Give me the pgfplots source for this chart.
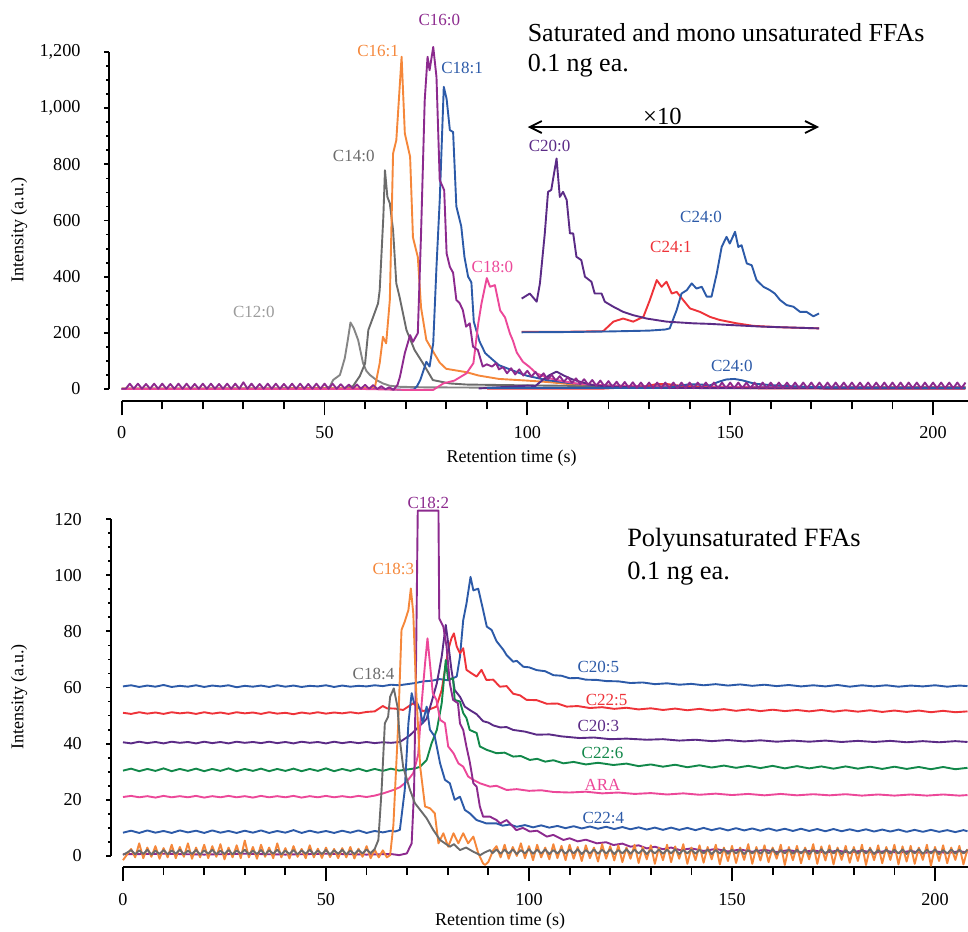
\documentclass[border=0pt]{standalone}
\usepackage{fontspec}
\setmainfont{Liberation Serif}
\usepackage{pgfplots}
\pgfplotsset{compat=1.18}
\usetikzlibrary{arrows.meta}
\definecolor{cgrey}{HTML}{6B6B6B}
\definecolor{cgreyl}{HTML}{858585}
\definecolor{cgreylab}{HTML}{9C9C9C}
\definecolor{corange}{HTML}{F5873A}
\definecolor{cpurple}{HTML}{8C2A8E}
\definecolor{cblue}{HTML}{2C5AA8}
\definecolor{cpink}{HTML}{EC4899}
\definecolor{cdpurple}{HTML}{5B2B86}
\definecolor{cred}{HTML}{EE3339}
\definecolor{cgreen}{HTML}{12884A}
\tikzset{lab/.style={font=\fontsize{8.5}{9}\selectfont}}
\pgfplotsset{
 topbox/.style={at={(54.55pt,264.8pt)}, anchor=south west, scale only axis, width=429.4pt, height=180.3pt, xmin=-3.1, xmax=208.6, ymin=-44, ymax=1240},
 botbox/.style={at={(55.5pt,31.9pt)}, anchor=south west, scale only axis, width=428.45pt, height=180.8pt, xmin=-2.95, xmax=208.1, ymin=-4, ymax=124.8},
 common/.style={axis lines=left, axis line style={draw=none}, tick align=outside, clip=false,
   tick style={black, line width=0.9pt},
   ticklabel style={font=\fontsize{9.1}{10}\selectfont, inner sep=0pt},
   /pgf/number format/assume math mode=true, /pgf/number format/1000 sep={,},
   every axis plot/.append style={line width=0.95pt, line join=round, mark=none}},
}
\begin{document}
\begin{tikzpicture}
\path[use as bounding box] (0pt,0pt) rectangle (484pt,465.5pt);
% ===== TOP: x axis =====
\begin{axis}[topbox, common, hide y axis, ytick=\empty,
  xtick={0,50,100,150,200}, minor x tick num=4, major tick length=7pt, minor tick length=4pt,
  xticklabel style={anchor=center, yshift=-8.4pt}]
\draw[line width=0.9pt] (axis cs:0,-44) -- (axis cs:208.6,-44);
\node[anchor=base, font=\fontsize{9}{10}\selectfont] at (axis cs:96.1,-261) {Retention time (s)};
\end{axis}
% ===== TOP: data =====
\begin{axis}[topbox, common, xtick=\empty,
  ytick={0,200,...,1200}, minor y tick num=3, major tick length=2.5pt, minor tick length=1.5pt,
  yticklabel style={anchor=east, xshift=-11.6pt}]
\draw[line width=0.9pt] (axis cs:-3.1,0) -- (axis cs:-3.1,1200);
\node[rotate=90, font=\fontsize{9}{10}\selectfont] at (axis cs:-25.3,567) {Intensity (a.u.)};
% C12:0
\addplot[cgreyl] coordinates {(0,2)(20,2)(40,3)(50,3)(51.3,8)(52.1,32)(53.8,50)(55,110)(55.8,180)(56.4,237)(57.2,217)(58.3,174)(59.5,92)(60.3,65)(61.2,50)(62.8,32)(64.4,20)(66,12)(68.5,8)(75,6)(90,5)(120,4)(208,4)};
% C14:0
\addplot[cgrey] coordinates {(0,1)(40,1)(55,3)(57,10)(58.7,46)(60,91)(60.8,210)(62,257)(63.2,305)(63.6,352)(64.5,613)(64.9,779)(65.5,684)(66.1,661)(66.9,566)(67.7,376)(68.5,328)(70.2,210)(72.2,139)(74.3,91)(76.7,32)(80.8,20)(85,16)(100,13)(120,10)(150,8)(208,7)};
% C16:1
\addplot[corange] coordinates {(0,2)(40,2)(60,3)(62.4,5)(63.6,92)(64.4,186)(65.2,163)(66.1,317)(66.9,839)(67.7,886)(69,1183)(69.8,910)(71.1,827)(71.8,540)(73,470)(73.8,290)(75.1,175)(76.3,145)(78.4,94)(80,72)(85,60)(88,48)(93,36)(100,30)(105,25)(110,18)(120,12)(140,8)(170,6)(208,6)};
% C18:1
\addplot[cblue] coordinates {(0,0)(40,0)(65,0)(69.8,-3)(72,-2)(72.8,10)(73.6,32)(75.1,97)(75.9,80)(76.8,163)(77.6,435)(78.4,672)(79.4,1076)(80.1,1033)(80.9,922)(81.7,915)(82.5,650)(83.7,580)(84.5,470)(85.4,400)(86.2,380)(86.8,240)(88.2,170)(89.6,128)(91,110)(93,85)(96.4,66)(99.7,48)(104.7,32)(110,22)(115,15)(125,10)(140,8)(170,6)(208,5)};
% C18:0
\addplot[cpink] coordinates {(0,0)(60,0)(70,-3)(76.8,-3)(79.3,20)(82,30)(85,56)(86.7,92)(87.9,234)(88.7,305)(90,395)(90.8,364)(92,370)(93.3,280)(94.5,255)(95.7,198)(96.4,174)(97.4,130)(98.9,97)(100.5,79)(102.2,56)(105,40)(108,30)(112,20)(120,12)(140,7)(208,5)};
% C24:1 actual
\addplot[cred] coordinates {(90,1)(118,1)(122,4)(128,5)(131.9,18)(134.3,18)(138,11)(145,5)(160,2)(208,1)};
% C20:0 actual
\addplot[cdpurple] coordinates {(88,2)(100,12)(102,11)(104,35)(105.5,50)(107.2,62)(109,48)(111,35)(113,26)(116,14)(120,9)(126,6)(135,4)(150,3)(208,2)};
% C24:0 actual
\addplot[cblue] coordinates {(90,4)(130,4)(135,5)(137,11)(140,17)(143,16)(145,13)(147,25)(149,34)(151,36)(153,31)(156,19)(160,14)(165,10)(170,7)(180,5)(208,4)};
% C16:0
\addplot[cpurple] coordinates {(0,1)(1,1)(2,19)(3,1)(4,19)(5,1)(6,18)(7,1)(8,19)(9,1)(10,19)(11,1)(12,18)(13,1)(14,19)(15,1)(16,19)(17,1)(18,18)(19,1)(20,19)(21,1)(22,19)(23,1)(24,18)(25,1)(26,19)(27,1)(28,19)(29,1)(30,24)(31,1)(32,19)(33,1)(34,18)(35,1)(36,19)(37,1)(38,19)(39,1)(40,18)(41,1)(42,19)(43,1)(44,19)(45,1)(46,18)(47,1)(48,19)(49,1)(50,19)(51,1)(52,19)(53,1)(54,17)(55,2)(56,16)(57,2)(58,16)(59,1)(60,15)(61,1)(62,14)(63,0)(64,10)(65,-1)(66,6)(67,-3)(68,15)(68.6,44)(69.8,128)(71.1,192)(71.8,168)(73,199)(73.8,555)(74.7,1028)(75.4,1183)(75.9,1135)(76.8,1218)(77.6,1111)(78.4,744)(79.5,708)(80.1,483)(80.9,435)(81.7,414)(82.5,317)(83.3,306)(84.1,281)(84.9,222)(85.8,234)(86.6,151)(87.8,139)(89,80)(90,88)(91.3,80)(92.3,92)(93,70)(94,78)(95,56)(96,74)(97,52)(98,70)(99,48)(100,65)(101,44)(102,61)(103,40)(104,56)(105,34)(106,51)(107,30)(108,46)(109,26)(110,42)(111,22)(112,38)(113,18)(114,35)(115,15)(116,32)(117,12)(118,30)(119,10)(120,28)(121,8)(122,26)(123,6)(124,25)(125,5)(126,24)(127,4)(128,23)(129,3)(130,23)(131,3)(132,23)(133,3)(134,23)(135,3)(136,23)(137,3)(138,23)(139,3)(140,23)(141,3)(142,23)(143,3)(144,23)(145,3)(146,23)(147,3)(148,23)(149,3)(150,23)(151,3)(152,23)(153,3)(154,23)(155,3)(156,23)(157,3)(158,23)(159,3)(160,23)(161,3)(162,23)(163,3)(164,23)(165,3)(166,23)(167,3)(168,23)(169,3)(170,23)(171,3)(172,23)(173,3)(174,23)(175,3)(176,23)(177,3)(178,23)(179,3)(180,23)(181,3)(182,23)(183,3)(184,23)(185,3)(186,23)(187,3)(188,23)(189,3)(190,23)(191,3)(192,23)(193,3)(194,23)(195,3)(196,23)(197,3)(198,23)(199,3)(200,23)(201,3)(202,23)(203,3)(204,23)(205,3)(206,23)(207,3)(208,23)};
% x10 traces
\addplot[cred] coordinates {(98.6,204)(110,204)(118.7,206)(121.2,240)(123.6,251)(126.1,240)(128.6,257)(130.2,317)(131.9,388)(133.1,364)(134.3,382)(135.6,340)(136.8,346)(138.4,317)(140.1,287)(142.5,275)(145,257)(147.4,246)(151.6,234)(155.7,225)(162.3,220)(171.9,216)};
\addplot[cblue] coordinates {(98.6,202)(110,203)(120,205)(130,208)(134,212)(135.1,216)(136.8,281)(138,340)(139.3,352)(140.5,376)(141.7,358)(143,364)(144.2,329)(145.4,329)(146.7,412)(147.9,506)(149.1,542)(149.9,518)(151.2,560)(152,506)(152.8,512)(154.1,447)(155.3,441)(156.5,388)(158.2,364)(159.8,352)(161,340)(162.3,317)(163.9,299)(165.6,293)(167.2,275)(168.8,275)(170.5,259)(171.9,269)};
\addplot[cdpurple] coordinates {(98.6,322)(100.6,340)(102.3,311)(103.1,376)(104.3,554)(105.1,702)(105.9,709)(107.2,821)(108,684)(108.8,702)(109.7,673)(110.5,554)(111.3,554)(112.1,471)(113.3,459)(114.2,400)(115.8,382)(116.6,340)(118.3,340)(119.1,311)(121.2,293)(123.6,275)(126.1,263)(129.4,251)(134.3,240)(140.9,234)(145,232)(149.9,228)(158.2,222)(165,219)(171.9,216)};
% arrow and annotations
\draw[{Straight Barb[length=6pt,width=6pt]}-{Straight Barb[length=6pt,width=6pt]}, line width=0.9pt] (axis cs:100.1,933) -- (axis cs:171.9,933);
\node[anchor=base, font=\fontsize{12.3}{14}\selectfont] at (axis cs:133.3,943) {×10};
\node[anchor=base west, font=\fontsize{13}{15}\selectfont, inner sep=0pt] at (axis cs:100,1239) {Saturated and mono unsaturated FFAs};
\node[anchor=base west, font=\fontsize{13}{15}\selectfont, inner sep=0pt] at (axis cs:100,1129) {0.1 ng ea.};
\node[lab, text=cgreylab] at (axis cs:32.6,275) {C12:0};
\node[lab, text=cgrey] at (axis cs:57.2,830) {C14:0};
\node[lab, text=corange] at (axis cs:63.2,1204) {C16:1};
\node[lab, text=cpurple] at (axis cs:78.3,1315) {C16:0};
\node[lab, text=cblue] at (axis cs:83.9,1144) {C18:1};
\node[lab, text=cpink] at (axis cs:91.4,433) {C18:0};
\node[lab, text=cdpurple] at (axis cs:105.5,866) {C20:0};
\node[lab, text=cblue] at (axis cs:142.8,611) {C24:0};
\node[lab, text=cred] at (axis cs:135.4,506) {C24:1};
\node[lab, text=cblue] at (axis cs:150.4,82) {C24:0};
\end{axis}
% ===== BOTTOM: x axis =====
\begin{axis}[botbox, common, hide y axis, ytick=\empty,
  xtick={0,50,100,150,200}, minor x tick num=4, major tick length=7pt, minor tick length=4pt,
  xticklabel style={anchor=center, yshift=-9.4pt}]
\draw[line width=0.9pt] (axis cs:0,-4) -- (axis cs:208.1,-4);
\node[anchor=base, font=\fontsize{9}{10}\selectfont] at (axis cs:92.9,-24.6) {Retention time (s)};
\end{axis}
% ===== BOTTOM: data =====
\begin{axis}[botbox, common, xtick=\empty,
  ytick={0,20,...,120}, minor y tick num=3, major tick length=2.5pt, minor tick length=1.5pt,
  yticklabel style={anchor=east, xshift=-11.9pt}]
\draw[line width=0.9pt] (axis cs:-2.95,0) -- (axis cs:-2.95,120);
\node[rotate=90, font=\fontsize{9}{10}\selectfont] at (axis cs:-25.6,56.7) {Intensity (a.u.)};
% C20:5
\addplot[cblue] coordinates {(0,60.4)(2,60.8)(4,60.2)(6,60.7)(8,60.3)(10,60.9)(12,60.2)(14,60.6)(16,60.3)(18,60.8)(20,60.2)(22,60.7)(24,60.4)(26,60.8)(28,60.1)(30,60.6)(32,60.3)(34,60.7)(36,60.2)(38,60.8)(40,60.3)(42,60.7)(44,60.2)(46,60.6)(48,60.4)(50,60.8)(52,60.2)(54,60.7)(56,60.3)(58,60.6)(60,60.4)(62,60.8)(64,60.5)(66,61)(68,60.8)(70,61.2)(72,61.6)(74,62.2)(76,62.4)(78,63)(80,62.6)(82.2,63.9)(83,71)(83.8,84)(84.6,89.9)(85.6,99.4)(86.3,94.6)(87.5,95.2)(88.7,87.6)(89.6,81.7)(90.8,80.5)(92,76.5)(93.7,73.4)(94.5,71.5)(96.1,69.2)(97,69.5)(98.6,67.4)(100,67.2)(101.9,66.2)(104,65.8)(106,64.4)(108,64.2)(110,63.3)(112,63.4)(114,62.8)(116.7,62.7)(119,62.3)(122,62.2)(125,61.6)(128,61.8)(131,61.2)(134,61.5)(137,61)(140,61.3)(143,60.8)(146,61.2)(149,60.7)(152,61.1)(155,60.6)(158,61)(161,60.5)(164,60.9)(167,60.4)(170,60.8)(173,60.4)(176,60.9)(179,60.3)(182,60.8)(185,60.4)(188,60.8)(191,60.3)(194,60.7)(197,60.4)(200,60.8)(203,60.3)(206,60.7)(208,60.5)};
% C22:5
\addplot[cred] coordinates {(0,51)(2,50.6)(4,51.2)(6,50.7)(8,51.1)(10,50.6)(12,51.2)(14,50.8)(16,51.1)(18,50.6)(20,51.2)(22,50.7)(24,51.1)(26,50.6)(28,51.2)(30,50.8)(32,51.1)(34,50.6)(36,51.2)(38,50.7)(40,51)(42,50.5)(44,51.1)(46,50.7)(48,51.2)(50,50.7)(52,51.1)(54,50.8)(56,51.2)(58,50.8)(60,51.3)(62,51.5)(64,53.4)(65,52.6)(67,52.5)(69,52)(71.5,54.4)(72.5,53)(73.9,51.6)(76,52.5)(77.2,53.2)(78.5,59.1)(79.3,66.3)(80.1,73.4)(80.9,77.5)(81.5,79.3)(82.2,74.6)(83,72.2)(83.8,74)(84.6,66.3)(85.8,65.1)(87.1,63.9)(88.3,66.3)(89.5,62.7)(91.2,62.8)(92.8,60.3)(94.5,60.5)(96.1,57.8)(97.8,57.2)(99.4,55.6)(101.9,55.5)(104.4,54.2)(107,54.3)(109.3,53.2)(112,53.4)(115,52.7)(118,53)(121,52.4)(124,52.8)(127,52.2)(130,52.6)(133,52)(136,52.5)(139,51.9)(142,52.4)(145,51.8)(148,52.3)(151,51.7)(154,52.2)(157,51.6)(160,52.1)(163,51.6)(166,52)(169,51.5)(172,52)(175,51.4)(178,51.9)(181,51.4)(184,51.9)(187,51.3)(190,51.8)(193,51.3)(196,51.8)(199,51.2)(202,51.7)(205,51.2)(208,51.5)};
% C20:3
\addplot[cdpurple] coordinates {(0,40.5)(2,40.1)(4,40.7)(6,40.2)(8,40.6)(10,40.1)(12,40.7)(14,40.3)(16,40.6)(18,40.1)(20,40.7)(22,40.2)(24,40.6)(26,40.1)(28,40.7)(30,40.3)(32,40.6)(34,40.2)(36,40.7)(38,40.2)(40,40.6)(42,40.1)(44,40.7)(46,40.3)(48,40.6)(50,40.1)(52,40.7)(54,40.2)(56,40.6)(58,40.2)(60,40.6)(62,40.2)(64,40.5)(66,40.3)(68.2,40.6)(70.7,43)(73.2,46.5)(74.8,48.9)(76,54.8)(77.3,61.5)(78.5,71)(79.5,82.3)(80.1,75.8)(80.9,66.3)(81.7,59.1)(83,56.7)(84.2,53.2)(85.4,52)(87.1,50.5)(88.7,48)(90,47.5)(91.2,46.5)(92.9,45.8)(94.5,45.9)(96.1,44.9)(99,44.3)(101.9,43.2)(105,43.3)(108,42.6)(112.5,42)(116,42.2)(120,41.6)(124,41.8)(129,41.4)(133,41.6)(137,41.1)(141,41.4)(145,40.9)(149,41.3)(153,40.8)(157,41.2)(161,40.7)(165,41.1)(169,40.7)(173,41.1)(177,40.6)(181,41)(185,40.6)(189,41)(193,40.5)(197,40.9)(201,40.5)(205,40.9)(208,40.6)};
% C22:6
\addplot[cgreen] coordinates {(0,30.4)(2,31.1)(4,30.2)(6,31.0)(8,30.3)(10,31.2)(12,30.2)(14,31.0)(16,30.3)(18,31.1)(20,30.2)(22,31.0)(24,30.3)(26,31.2)(28,30.2)(30,31.0)(32,30.3)(34,31.1)(36,30.2)(38,31.0)(40,30.3)(42,31.1)(44,30.2)(46,31.0)(48,30.3)(50,31.2)(52,30.2)(54,31.0)(56,30.3)(58,31.1)(60,30.2)(62,31.0)(64,30.3)(66,31.1)(68,30.4)(70,30.8)(72,31.2)(73.2,31.8)(74.8,34.2)(76,40.1)(77.3,44.9)(78.5,54.4)(79.5,69.8)(80.1,62.7)(81.3,63.3)(81.7,55.6)(83,55)(83.8,50.9)(84.6,49.1)(85.4,44.9)(87.1,43.8)(87.9,39)(89.6,37.8)(92,36.6)(94,36.8)(96.1,35.4)(98,35.6)(100.2,34.2)(102,34.6)(104,33.6)(106,34.1)(108.5,33)(111,33.5)(114,32.6)(117,33.2)(120.8,32.4)(124,32.9)(127,32)(130,32.6)(133,31.8)(136,32.5)(139,31.6)(142,32.3)(145,31.5)(148,32.2)(151,31.4)(154,32.1)(157,31.3)(160,32.1)(163,31.2)(166,32)(169,31.2)(172,31.9)(175,31.1)(178,31.9)(181,31.1)(184,31.8)(187,31)(190,31.8)(193,31)(196,31.7)(199,30.9)(202,31.7)(205,30.9)(208,31.4)};
% ARA
\addplot[cpink] coordinates {(0,21)(2,21.4)(4,20.9)(6,21.3)(8,20.8)(10,21.4)(12,20.9)(14,21.3)(16,20.9)(18,21.4)(20,20.8)(22,21.3)(24,20.9)(26,21.4)(28,20.9)(30,21.3)(32,20.8)(34,21.4)(36,20.9)(38,21.3)(40,20.9)(42,21.4)(44,20.8)(46,21.3)(48,20.9)(50,21.4)(52,20.9)(54,21.3)(56,20.9)(58,21.4)(60,21)(62,21.5)(64.1,22.3)(66.6,23.5)(68.2,24.5)(69.9,26.5)(71.5,29.5)(72.7,36)(73.6,55)(74.4,68.6)(75,77.5)(75.6,68.6)(76.3,58)(77.2,55.6)(78.1,48.5)(79.3,47.3)(80.1,39)(81.4,36.6)(82.6,33)(83.8,31.8)(85,28.3)(86.3,27.1)(87.9,25.9)(90.4,24.7)(92,25)(94.5,23.5)(97,23.8)(100,23.2)(103,23.4)(106,22.8)(110,22.6)(114,22.9)(118,22.3)(122,22.6)(126,22.1)(130,22.4)(134,21.9)(138,22.3)(142,21.8)(146,22.2)(150,21.7)(154,22.1)(158,21.6)(162,22.1)(166,21.6)(170,22)(174,21.6)(178,22)(182,21.5)(186,21.9)(190,21.5)(194,21.9)(198,21.5)(202,21.9)(206,21.5)(208,21.7)};
% C22:4
\addplot[cblue] coordinates {(0,8.3)(2,9.0)(4,8.2)(6,9.1)(8,8.3)(10,8.9)(12,8.2)(14,9.1)(16,8.4)(18,9.0)(20,8.2)(22,9.1)(24,8.3)(26,8.9)(28,8.2)(30,9.0)(32,8.3)(34,9.1)(36,8.2)(38,8.9)(40,8.3)(42,9.2)(44,8.2)(46,9.0)(48,8.3)(50,8.9)(52,8.2)(54,9.0)(56,8.3)(58,9.1)(60,8.2)(62,8.9)(64,8.4)(66,9.0)(67,8.7)(68.2,9.3)(69.4,23.5)(70.3,47.3)(71.1,58)(71.7,54.4)(72.5,54.4)(73.2,52)(73.8,47.3)(74.8,53.2)(75.6,45)(76.8,42.5)(78.1,33)(79.3,27.1)(80.5,25.9)(81.7,20)(83,21.1)(84.2,16.4)(85.4,15.2)(87.1,12.8)(89.5,11.6)(92,11.6)(93.5,10.8)(95.3,11.2)(97,10.4)(99,11)(101,10.2)(103,10.9)(105,10.1)(107,10.7)(109,9.9)(111,10.6)(113,9.8)(115,10.5)(117,9.7)(119,10.4)(121,9.6)(123,10.3)(125,9.5)(127,10.2)(129,9.4)(131,10.1)(133,9.3)(135,10.1)(137,9.3)(139,10)(141,9.2)(143,10)(145,9.2)(147,9.9)(149,9.1)(151,9.9)(153,9.1)(155,9.8)(157,9)(159,9.8)(161,9)(163,9.7)(165,8.9)(167,9.7)(169,8.9)(171,9.6)(173,8.8)(175,9.6)(177,8.8)(179,9.5)(181,8.8)(183,9.5)(185,8.7)(187,9.4)(189,8.7)(191,9.4)(193,8.6)(195,9.3)(197,8.6)(199,9.3)(201,8.6)(203,9.2)(205,8.5)(207,9.2)(208,8.8)};
% C18:2
\addplot[cpurple] coordinates {(0,0.6)(10,0.8)(20,0.5)(30,0.8)(40,0.5)(50,0.8)(60,0.5)(66,0.7)(68,0.3)(69.9,0.9)(71.1,4.5)(71.7,23.5)(72.2,71)(72.6,123)(77.7,123)(77.9,84.6)(78.9,81.7)(79.7,74.6)(80.5,61.5)(81.3,55.6)(82.5,54.4)(83,47.2)(83.8,44.9)(84.6,38.9)(85.4,33.6)(86.3,25.9)(87.1,24.7)(87.9,17.6)(88.7,14)(90.4,14)(92,12.8)(92.9,11.6)(94.5,12.8)(96.9,9.2)(98.5,10)(100.2,8.7)(102,9)(104.4,6.9)(106,7.5)(108.5,5.7)(110,6.3)(112,5.2)(114,5.8)(116.7,4.5)(119,4.9)(120.8,3.9)(123,4.4)(125,3.3)(127,3.8)(129,2.7)(131,3.3)(133,2.4)(135,3)(137.2,2.1)(140,2.7)(143,1.8)(146,2.5)(149,1.6)(152,2.3)(155,1.5)(158,2.2)(161,1.4)(164,2.1)(167,1.3)(170,2)(173,1.2)(176,1.9)(179,1.2)(182,1.9)(185,1.1)(188,1.8)(191,1.1)(194,1.8)(197,1)(200,1.7)(203,1)(206,1.7)(208,1.2)};
% C18:3
\addplot[corange] coordinates {(0,-1.5)(1,0.5)(2,2.5)(3,-0.5)(4,4.5)(5,-0.8)(6,3)(7,-0.3)(8,3.5)(9,-1)(10,2.8)(11,-0.5)(12,4)(13,-0.8)(14,3.2)(15,-0.3)(16,4.5)(17,-1)(18,3)(19,-0.5)(20,4)(21,-0.8)(22,3.5)(23,-0.3)(24,4.2)(25,-1.2)(26,3)(27,-0.5)(28,3.8)(29,-0.8)(30,5.5)(31,-0.5)(32,3.2)(33,-1)(34,4)(35,-0.3)(36,3)(37,-0.8)(38,4.5)(39,-0.5)(40,2.8)(41,-0.9)(42,3.5)(43,-0.3)(44,2.5)(45,-0.8)(46,3.8)(47,-0.5)(48,2.6)(49,-0.7)(50,3)(51,-0.4)(52,2.5)(53,-0.8)(54,2.8)(55,-0.5)(56,3.2)(57,-0.9)(58,2.6)(59,-0.3)(60,3.5)(61,-0.8)(62,2.2)(63,-0.5)(64,2)(65,-0.5)(65.8,0.3)(66.6,11)(67.8,47.3)(68.6,80.5)(69.4,83.5)(70.3,87.6)(70.9,95.3)(71.5,86.4)(72.2,59.1)(73.2,31.8)(74.4,17.6)(75.6,17)(76.8,15.2)(77.7,4.5)(78.9,8.1)(80.1,3.3)(81.4,8.1)(82.6,4.5)(83.8,8.1)(85,4.5)(86.3,6.9)(87.5,1)(88.7,-2.7)(89.2,-3.2)(90,-2.1)(91.2,2.1)(92,3.5)(93,-0.5)(94,4)(95,-1)(96,3.2)(97,0)(98,4.5)(99,-0.8)(100,3.5)(101,-1.5)(102,4)(103,-0.5)(104,3)(105,-1.2)(106,4.2)(107,-0.8)(108,3.6)(109,-1.5)(110,4)(111,-1)(112,3.2)(113,-1.8)(114,3.8)(115,-0.8)(116,3)(117,-2)(118,4.2)(119,-1)(120,3.5)(121,-1.6)(122,3.8)(123,-2.2)(124,3)(125,-1)(126,4)(127,-2.5)(128,3.2)(129,-1.2)(130,3.8)(131,-2.8)(132,3)(133,-1.5)(134,4)(135,-2.2)(136,3.4)(137,-1)(138,4.2)(139,-2.8)(140,3)(141,-1.5)(142,3.8)(143,-2.4)(144,3.2)(145,-1.2)(146,4)(147,-3)(148,3)(149,-1.8)(150,3.6)(151,-2.5)(152,3)(153,-1.4)(154,4.2)(155,-2.8)(156,3.2)(157,-1.6)(158,3.8)(159,-2.2)(160,3)(161,-1)(162,4)(163,-3.2)(164,3.2)(165,-1.5)(166,3.6)(167,-2.6)(168,3)(169,-1.2)(170,4.2)(171,-2.8)(172,3.4)(173,-1.6)(174,3.8)(175,-3)(176,3)(177,-1.4)(178,3.6)(179,-2.4)(180,3.2)(181,-1.8)(182,4)(183,-3.2)(184,3)(185,-1.5)(186,3.8)(187,-2.6)(188,3.2)(189,-1.4)(190,4)(191,-3)(192,3.4)(193,-2)(194,3.6)(195,-2.8)(196,3)(197,-1.4)(198,4)(199,-3.5)(200,3.2)(201,-1.8)(202,3.8)(203,-2.6)(204,3)(205,-1.4)(206,3.6)(207,-3)(208,2.5)};
% C18:4
\addplot[cgrey] coordinates {(0,0.4)(1,1.2)(2,2.1)(3,0.6)(4,2)(5,0.7)(6,2.2)(7,0.5)(8,1.9)(9,0.7)(10,2.1)(11,0.6)(12,2)(13,0.8)(14,2.2)(15,0.6)(16,1.9)(17,0.7)(18,2.1)(19,0.5)(20,2)(21,0.8)(22,2.2)(23,0.6)(24,1.9)(25,0.7)(26,2.1)(27,0.6)(28,2)(29,0.8)(30,2.2)(31,0.6)(32,1.9)(33,0.7)(34,2.1)(35,0.5)(36,2)(37,0.8)(38,2.2)(39,0.6)(40,1.9)(41,0.7)(42,2.1)(43,0.6)(44,2)(45,0.8)(46,2.2)(47,0.6)(48,1.9)(49,0.7)(50,2.1)(51,0.5)(52,2)(53,0.8)(54,2.2)(55,0.6)(56,1.9)(57,0.7)(58,2.1)(59,0.9)(60,2.3)(61,1)(62,2.5)(62.9,5.7)(63.7,23.5)(64.5,47.3)(65.3,49.6)(65.8,56.7)(66.7,59.7)(67.6,53.2)(68.2,41.3)(69,31.8)(70.7,23.5)(71.9,18.8)(73.2,16.4)(74.8,13.4)(76.4,9.3)(78.1,5.7)(80.5,3.3)(81.5,4.2)(83,2.1)(84.5,3)(86.3,1.5)(88,0.3)(89,1.2)(90.4,2.1)(91,1)(92,2.3)(93,0.8)(94,2.2)(95,0.9)(96,2.3)(97,0.7)(98,2.1)(99,0.9)(100,2.4)(101,0.8)(102,2.2)(103,0.9)(104,2.3)(105,0.7)(106,2.1)(107,0.9)(108,2.3)(109,0.8)(110,2.2)(111,0.9)(112,2.4)(113,0.7)(114,2.1)(115,0.9)(116,2.3)(117,0.8)(118,2.2)(119,0.9)(120,2.3)(121,0.7)(122,2.1)(123,0.9)(124,2.4)(125,0.8)(126,2.2)(127,0.9)(128,2.3)(129,0.7)(130,2.1)(131,0.9)(132,2.3)(133,0.8)(134,2.2)(135,0.9)(136,2.4)(137,0.7)(138,2.1)(139,0.9)(140,2.3)(141,0.8)(142,2.2)(143,0.9)(144,2.3)(145,0.7)(146,2.1)(147,0.9)(148,2.4)(149,0.8)(150,2.2)(151,0.9)(152,2.3)(153,0.7)(154,2.1)(155,0.9)(156,2.3)(157,0.8)(158,2.2)(159,0.9)(160,2.4)(161,0.7)(162,2.1)(163,0.9)(164,2.3)(165,0.8)(166,2.2)(167,0.9)(168,2.3)(169,0.7)(170,2.1)(171,0.9)(172,2.4)(173,0.8)(174,2.2)(175,0.9)(176,2.3)(177,0.7)(178,2.1)(179,0.9)(180,2.3)(181,0.8)(182,2.2)(183,0.9)(184,2.4)(185,0.7)(186,2.1)(187,0.9)(188,2.3)(189,0.8)(190,2.2)(191,0.9)(192,2.3)(193,0.7)(194,2.1)(195,0.9)(196,2.4)(197,0.8)(198,2.2)(199,0.9)(200,2.3)(201,0.7)(202,2.1)(203,0.9)(204,2.3)(205,0.8)(206,2.2)(207,0.9)(208,2.2)};
% annotations
\node[anchor=base west, font=\fontsize{13.2}{15}\selectfont, inner sep=0pt] at (axis cs:124.1,110.4) {Polyunsaturated FFAs};
\node[anchor=base west, font=\fontsize{13.2}{15}\selectfont, inner sep=0pt] at (axis cs:124.1,98.6) {0.1 ng ea.};
\node[lab, text=cgrey] at (axis cs:61.7,64.7) {C18:4};
\node[lab, text=corange] at (axis cs:66.6,102.1) {C18:3};
\node[lab, text=cpurple] at (axis cs:75.2,125.6) {C18:2};
\node[lab, text=cblue] at (axis cs:117.1,67.4) {C20:5};
\node[lab, text=cred] at (axis cs:119.1,55.6) {C22:5};
\node[lab, text=cdpurple] at (axis cs:117.1,46.4) {C20:3};
\node[lab, text=cgreen] at (axis cs:118.1,36.8) {C22:6};
\node[lab, text=cpink] at (axis cs:118.1,25.3) {ARA};
\node[lab, text=cblue] at (axis cs:118.3,13.4) {C22:4};
\end{axis}
\end{tikzpicture}
\end{document}
